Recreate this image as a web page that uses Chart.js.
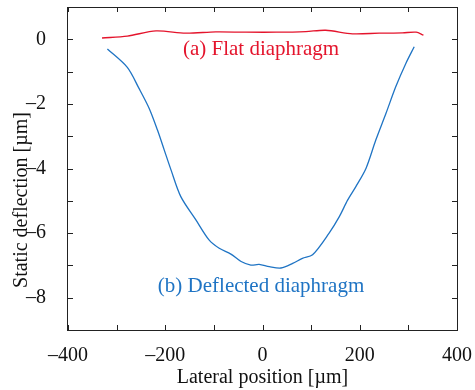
<!DOCTYPE html>
<html>
<head>
<meta charset="utf-8">
<script src="https://cdn.jsdelivr.net/npm/chart.js@4.4.1/dist/chart.umd.min.js"></script>
<style>
  html, body { margin: 0; padding: 0; background: #fff; }
  #wrap { width: 475px; height: 390px; }
</style>
</head>
<body>
<div id="wrap"><canvas id="grafico" width="475" height="390"></canvas></div>
<script>
const flatX = [-330, -278, -219, -158, -96, -34, 28, 89, 130, 185, 240, 288, 316, 331]
const flatY = [0.04, 0.10, 0.26, 0.19, 0.23, 0.22, 0.22, 0.24, 0.28, 0.17, 0.19, 0.20, 0.22, 0.13]

const deflX = [-319, -278, -254, -233, -216, -202, -188, -168, -137, -110, -89, -65, -44, -24, -7, 14, 38, 62, 82, 103, 137, 158, 175, 192, 213, 233, 254, 274, 295, 312]
const deflY = [-0.30, -0.87, -1.52, -2.14, -2.81, -3.43, -4.05, -4.87, -5.59, -6.21, -6.47, -6.65, -6.88, -6.99, -6.97, -7.04, -7.08, -6.94, -6.78, -6.67, -6.00, -5.49, -4.98, -4.56, -3.99, -3.12, -2.29, -1.47, -0.74, -0.23]

const xTicks = [-400, -300, -200, -100, 0, 100, 200, 300, 400]
const yTicks = [1, 0, -1, -2, -3, -4, -5, -6, -7, -8, -9]
const xLabels = [-400, -200, 0, 200, 400]
const yLabels = [0, -2, -4, -6, -8]

const vermelho = '#e4142c'
const azul = '#1f74c4'
const fonte = '"Liberation Serif", "DejaVu Serif", serif'

function pontos(xs, ys) {
    return xs.map((x, i) => ({ x: x, y: ys[i] }))
}

function sinal(v) {
    return v < 0 ? '\u2013' + Math.abs(v) : String(v)
}

// ticks para dentro nos quatro lados + moldura + textos
const moldura = {
    id: 'moldura',
    afterDraw(chart) {
        const c = chart.ctx
        const a = chart.chartArea
        const sx = chart.scales.x
        const sy = chart.scales.y
        const l = Math.round(a.left)
        const r = Math.round(a.right)
        const t = Math.round(a.top)
        const b = Math.round(a.bottom)
        c.save()
        c.fillStyle = '#222'
        xTicks.forEach(v => {
            const px = Math.round(sx.getPixelForValue(v))
            c.fillRect(px, b - 5, 1, 5)
            c.fillRect(px, t, 1, 5)
        })
        yTicks.forEach(v => {
            const py = Math.round(sy.getPixelForValue(v))
            c.fillRect(l, py, 5, 1)
            c.fillRect(r - 5, py, 5, 1)
        })
        // moldura
        c.fillRect(l - 1, t, r - l + 1, 1)
        c.fillRect(l - 1, b, r - l + 1, 1)
        c.fillRect(l - 1, t, 1, b - t + 1)
        c.fillRect(r, t, 1, b - t + 1)

        c.font = '21px ' + fonte
        c.textAlign = 'center'
        c.textBaseline = 'middle'
        c.fillStyle = vermelho
        c.fillText('(a) Flat diaphragm', sx.getPixelForValue(-3), sy.getPixelForValue(-0.33))
        c.fillStyle = azul
        c.fillText('(b) Deflected diaphragm', sx.getPixelForValue(-3), sy.getPixelForValue(-7.66))

        c.fillStyle = '#111'
        c.font = '20px ' + fonte
        c.translate(22, 200)
        c.rotate(-Math.PI / 2)
        c.fillText('Static deflection [\u00b5m]', 0, 0)
        c.restore()
    }
}

const ctx = document.getElementById('grafico')

new Chart(ctx, {
    type: 'line',
    data: {
        datasets: [{
            label: 'Flat',
            data: pontos(flatX, flatY),
            borderColor: vermelho,
            borderWidth: 1.3,
            pointRadius: 0,
            tension: 0.3
        },
        {
            label: 'Deflected',
            data: pontos(deflX, deflY),
            borderColor: azul,
            borderWidth: 1.3,
            pointRadius: 0,
            tension: 0.3
        }]
    },
    plugins: [moldura],
    options: {
        responsive: false,
        animation: false,
        layout: { padding: { top: 7, right: 18, left: 0, bottom: 0 } },
        plugins: {
            legend: { display: false },
            tooltip: { enabled: false }
        },
        scales: {
            x: {
                type: 'linear',
                min: -400,
                max: 400,
                grid: { display: false },
                border: { display: false },
                afterBuildTicks: s => { s.ticks = xLabels.map(v => ({ value: v })) },
                afterFit: s => { s.height = 60; s.paddingLeft = 0; s.paddingRight = 0 },
                ticks: {
                    color: '#111',
                    padding: 6,
                    maxRotation: 0,
                    font: { family: fonte, size: 20 },
                    callback: v => sinal(v)
                },
                title: {
                    display: true,
                    text: 'Lateral position [\u00b5m]',
                    color: '#111',
                    font: { family: fonte, size: 20 },
                    padding: { top: 0, bottom: 0 }
                }
            },
            y: {
                type: 'linear',
                min: -9,
                max: 1,
                grid: { display: false },
                border: { display: false },
                afterBuildTicks: s => { s.ticks = yLabels.map(v => ({ value: v })) },
                afterFit: s => { s.width = 68; s.paddingTop = 0; s.paddingBottom = 0 },
                ticks: {
                    color: '#111',
                    padding: 14,
                    font: { family: fonte, size: 20 },
                    callback: v => sinal(v)
                }
            }
        }
    }
})
</script>
</body>
</html>
